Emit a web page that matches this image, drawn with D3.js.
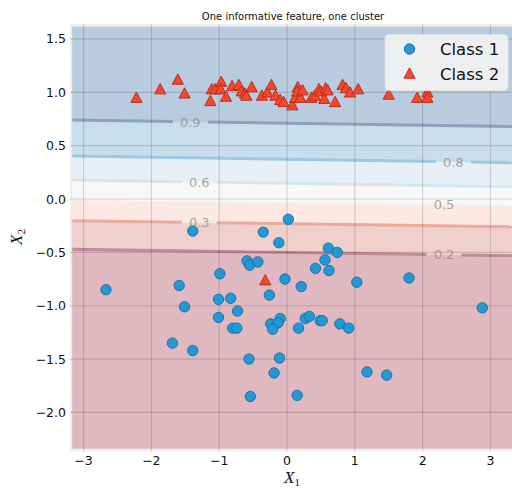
<!DOCTYPE html>
<html><head><meta charset="utf-8">
<script src="https://cdn.jsdelivr.net/npm/d3@7"></script>
<style>body{margin:0;background:#fff}svg{display:block}</style>
</head><body><svg id="c" width="512" height="489"></svg>
<script>
// ---- data ----
const class1X = [-1.39,-2.67,-1.59,-0.99,-1.51,-1.01,-0.83,-1.01,-0.73,-0.80,-0.74,-1.69,-1.39,0.02,-0.35,-0.12,0.61,0.74,0.56,-0.59,-0.55,-0.43,0.42,0.62,-0.03,0.21,1.03,-0.26,-0.24,-0.10,-0.13,-0.21,0.27,0.33,0.17,0.49,0.52,0.78,0.91,-0.56,-0.11,-0.19,1.18,1.47,-0.54,0.15,1.80,2.88];
const class1Y = [-0.30,-0.85,-0.81,-0.70,-1.01,-0.94,-0.93,-1.11,-1.05,-1.21,-1.21,-1.35,-1.42,-0.19,-0.31,-0.41,-0.46,-0.50,-0.57,-0.58,-0.62,-0.59,-0.65,-0.67,-0.75,-0.82,-0.78,-0.90,-1.17,-1.12,-1.16,-1.22,-1.12,-1.10,-1.21,-1.14,-1.14,-1.17,-1.21,-1.50,-1.49,-1.63,-1.62,-1.65,-1.85,-1.84,-0.74,-1.02];
const class2X = [-2.22,-1.87,-1.61,-1.51,-1.13,-1.11,-1.06,-0.97,-0.98,-0.90,-0.81,-0.71,-0.67,-0.62,-0.60,-0.52,-0.37,-0.29,-0.23,-0.17,-0.10,-0.05,0.08,0.12,0.16,0.15,0.20,0.23,0.36,0.41,0.47,0.50,0.55,0.57,0.60,0.71,0.82,0.87,0.93,1.05,1.50,1.92,2.07,2.07,-0.32];
const class2Y = [0.95,1.03,1.12,0.99,0.92,1.03,1.03,1.10,1.03,0.96,1.06,1.07,1.01,0.99,0.97,1.05,0.97,1.00,1.07,0.97,0.93,0.91,0.88,0.95,1.05,1.01,0.95,1.02,0.95,0.97,1.03,1.01,0.94,1.04,1.02,0.91,1.07,1.04,1.00,1.03,0.98,0.95,1.00,0.95,-0.76];
const levels = [0.2, 0.3, 0.5, 0.6, 0.8, 0.9];
const levelYAtXm3 = [-0.473, -0.204, 0.003, 0.177, 0.401, 0.738];
const levelYAtXp3 = [-0.528, -0.257, -0.053, 0.118, 0.343, 0.683];
const labelX = [2.316, -1.293, 2.316, -1.293, 2.453, -1.426];
const meshX = [-3.165, 3.37];
const meshY = [-2.336, 1.612];
const xTicks = [-3, -2, -1, 0, 1, 2, 3];
const yTicks = [-2.0, -1.5, -1.0, -0.5, 0.0, 0.5, 1.0, 1.5];
const legendLabels = ["Class 1", "Class 2"];
const titleText = "One informative feature, one cluster";

// ---- drawing ----
const svg = d3.select("#c");
const ax = {l: 70, r: 512, t: 24, b: 451.5};
const x = d3.scaleLinear().domain([-3.2, 3.37]).range([70, 515.5]);
const y = d3.scaleLinear().domain([-2.366, 1.64]).range([451.5, 24]);

const bandColor = d3.scaleThreshold().domain(levels)
  .range(["#dfb9bf", "#f0d0cb", "#fbe9e2", "#f8f8f8", "#e7f0f7", "#c8deec", "#b9cbdf"]);
const lineColor = d3.scaleOrdinal().domain(levels)
  .range(["#c08a96", "#eaaa9e", "#f6f6f6", "#d6e6f1", "#9fc8e2", "#8aa2bf"]);

svg.append("defs").append("clipPath").attr("id", "clip")
  .append("rect").attr("x", ax.l).attr("y", ax.t).attr("width", ax.r - ax.l).attr("height", ax.b - ax.t);

svg.append("rect").attr("x", ax.l).attr("y", ax.t).attr("width", ax.r - ax.l).attr("height", ax.b - ax.t)
  .attr("fill", "#eeeeee");

const g = svg.append("g").attr("clip-path", "url(#clip)");

const bY = (i, xv) => levelYAtXm3[i] + (levelYAtXp3[i] - levelYAtXm3[i]) * (xv + 3) / 6;

// bands
const nb = levels.length + 1;
for (let k = 0; k < nb; k++) {
  const lower = xv => k === 0 ? meshY[0] : bY(k - 1, xv);
  const upper = xv => k === nb - 1 ? meshY[1] : bY(k, xv);
  const pts = [[meshX[0], lower(meshX[0])], [meshX[1], lower(meshX[1])], [meshX[1], upper(meshX[1])], [meshX[0], upper(meshX[0])]];
  const mid = k === 0 ? levels[0] - 0.05 : (k === nb - 1 ? levels[nb - 2] + 0.05 : (levels[k - 1] + levels[k]) / 2);
  g.append("path")
    .attr("d", d3.line().x(d => x(d[0])).y(d => y(d[1]))(pts) + "Z")
    .attr("fill", bandColor(mid))
    .attr("stroke", bandColor(mid)).attr("stroke-width", 0.6);
}

// contour lines with inline label gaps
const gapPx = 17.5;
levels.forEach((lv, i) => {
  const gap = gapPx / 67.8;
  const segs = [[meshX[0], labelX[i] - gap], [labelX[i] + gap, meshX[1]]];
  segs.forEach(s => {
    g.append("path")
      .attr("d", d3.line().x(d => x(d)).y(d => y(bY(i, d)))(s))
      .attr("fill", "none").attr("stroke", lineColor(lv)).attr("stroke-width", 3);
  });
});

// grid
g.selectAll(".gx").data(xTicks).join("line")
  .attr("x1", d => x(d)).attr("x2", d => x(d)).attr("y1", ax.t).attr("y2", ax.b)
  .attr("stroke", "rgba(0,0,0,0.14)").attr("stroke-width", 1.2);
g.selectAll(".gy").data(yTicks).join("line")
  .attr("y1", d => y(d)).attr("y2", d => y(d)).attr("x1", ax.l).attr("x2", ax.r)
  .attr("stroke", "rgba(0,0,0,0.14)").attr("stroke-width", 1.2);

// contour labels
levels.forEach((lv, i) => {
  g.append("text").attr("x", x(labelX[i])).attr("y", y(bY(i, labelX[i])) + 4.8)
    .attr("text-anchor", "middle").attr("font-family", "DejaVu Sans").attr("font-size", 13)
    .attr("fill", "#8a8a8a").attr("fill-opacity", 0.75).text(d3.format(".1f")(lv));
});

// markers
const c1 = class1X.map((v, i) => [v, class1Y[i]]);
const c2 = class2X.map((v, i) => [v, class2Y[i]]);
const tri = s => `M0,${-s}L${s},${s * 0.85}L${-s},${s * 0.85}Z`;
g.selectAll(".c1").data(c1).join("circle")
  .attr("cx", d => x(d[0])).attr("cy", d => y(d[1])).attr("r", 5.2)
  .attr("fill", "#2299d4").attr("stroke", "#1a6a9c").attr("stroke-width", 0.9);
g.selectAll(".c2").data(c2).join("path")
  .attr("transform", d => `translate(${x(d[0])},${y(d[1])})`).attr("d", tri(5.6))
  .attr("fill", "#f4472b").attr("stroke", "#b3281a").attr("stroke-width", 0.9);

// tick labels
const fmtX = d => d3.format("d")(d).replace("-", "\u2212");
const fmtY = d => d3.format(".1f")(d).replace("-", "\u2212");
svg.selectAll(".xt").data(xTicks).join("text")
  .attr("x", d => x(d)).attr("y", 465).attr("text-anchor", "middle")
  .attr("font-family", "DejaVu Sans").attr("font-size", 12.5).attr("fill", "#111").text(fmtX);
svg.selectAll(".yt").data(yTicks).join("text")
  .attr("x", 66).attr("y", d => y(d) + 4.5).attr("text-anchor", "end")
  .attr("font-family", "DejaVu Sans").attr("font-size", 12.5).attr("fill", "#111").text(fmtY);

// axis labels
const xl = svg.append("text").attr("x", 292).attr("y", 483).attr("text-anchor", "middle")
  .attr("font-family", "Liberation Serif").attr("font-size", 17).attr("fill", "#111");
xl.append("tspan").attr("font-style", "italic").text("X");
xl.append("tspan").attr("font-size", 11).attr("dy", 2.5).text("1");
const yl = svg.append("text").attr("transform", "translate(22,237) rotate(-90)").attr("text-anchor", "middle")
  .attr("font-family", "Liberation Serif").attr("font-size", 17).attr("fill", "#111");
yl.append("tspan").attr("font-style", "italic").text("X");
yl.append("tspan").attr("font-size", 11).attr("dy", 2.5).text("2");

// title
svg.append("text").attr("x", 293).attr("y", 20).attr("text-anchor", "middle")
  .attr("font-family", "DejaVu Sans").attr("font-size", 10).attr("fill", "#111").text(titleText);

// legend
const lg = svg.append("g");
lg.append("rect").attr("x", 385).attr("y", 34.5).attr("width", 123).attr("height", 56).attr("rx", 4)
  .attr("fill", "#f0f0f0").attr("fill-opacity", 0.95).attr("stroke", "#e2e2e2").attr("stroke-width", 0.8);
legendLabels.forEach((lab, i) => {
  const cy = 49 + i * 24.5;
  if (i === 0) lg.append("circle").attr("cx", 409.5).attr("cy", cy).attr("r", 5.2)
    .attr("fill", "#2299d4").attr("stroke", "#1a6a9c").attr("stroke-width", 0.9);
  else lg.append("path").attr("transform", `translate(409.5,${cy})`).attr("d", tri(5.6))
    .attr("fill", "#f4472b").attr("stroke", "#b3281a").attr("stroke-width", 0.9);
  lg.append("text").attr("x", 440).attr("y", cy + 6).attr("font-family", "DejaVu Sans")
    .attr("font-size", 16.5).attr("fill", "#111").text(lab);
});
</script></body></html>
